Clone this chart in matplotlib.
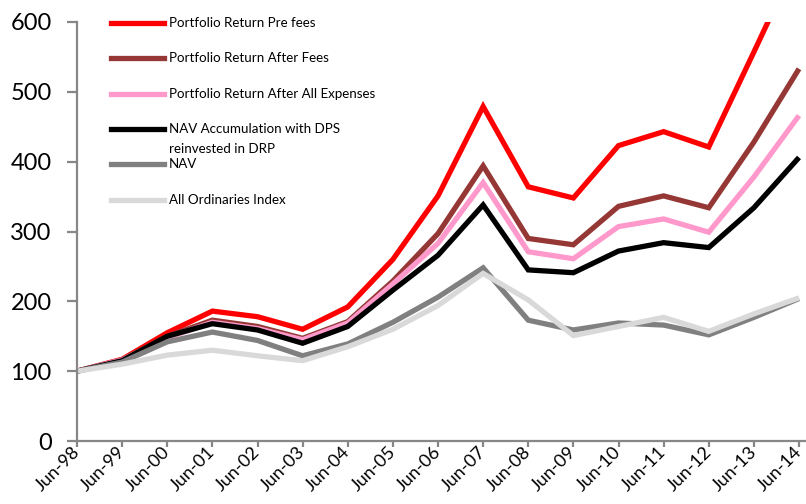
import matplotlib
matplotlib.use("Agg")
import matplotlib.pyplot as plt
from matplotlib.lines import Line2D
import matplotlib.transforms as mtransforms

plt.rcParams['font.family'] = ['Lato', 'DejaVu Sans']

categories = ["Jun-98", "Jun-99", "Jun-00", "Jun-01", "Jun-02", "Jun-03", "Jun-04",
              "Jun-05", "Jun-06", "Jun-07", "Jun-08", "Jun-09", "Jun-10", "Jun-11",
              "Jun-12", "Jun-13", "Jun-14"]

pre_fees = [100, 117, 155, 186, 178, 160, 192, 260, 351, 479, 364, 348, 423, 443, 421, 557, 695]
after_fees = [100, 116, 150, 173, 164, 147, 171, 229, 297, 394, 290, 281, 336, 351, 334, 428, 533]
after_all = [100, 116, 148, 170, 161, 145, 169, 225, 283, 370, 271, 261, 307, 318, 299, 378, 466]
nav_accum = [100, 115, 150, 168, 159, 140, 164, 216, 266, 338, 245, 241, 272, 284, 277, 334, 406]
nav = [100, 113, 142, 156, 144, 122, 139, 170, 206, 248, 173, 159, 169, 166, 152, 177, 204]
all_ords = [100, 110, 123, 130, 122, 115, 135, 160, 194, 240, 202, 151, 164, 177, 157, 182, 205]

labels = ["Portfolio Return Pre fees", "Portfolio Return After Fees",
          "Portfolio Return After All Expenses",
          "NAV Accumulation with DPS\nreinvested in DRP", "NAV", "All Ordinaries Index"]
colors = ["#FF0000", "#953735", "#FF99CC", "#000000", "#808080", "#D9D9D9"]
series = [pre_fees, after_fees, after_all, nav_accum, nav, all_ords]
y_ticks = [0, 100, 200, 300, 400, 500, 600]

fig = plt.figure(figsize=(8.06, 5.04), dpi=100)
ax = fig.add_axes([77 / 806, 1 - 441 / 504, 729 / 806, 419 / 504])

x = list(range(len(categories)))
for vals, c in zip(series, colors):
    ax.plot(x, vals, color=c, lw=3.8, solid_joinstyle='miter', solid_capstyle='butt')

ax.set_xlim(0, 16.155)
ax.set_ylim(0, 600)
ax.set_yticks(y_ticks)
ax.set_yticklabels([str(v) for v in y_ticks], fontsize=17)
ax.set_xticks(x)
ax.set_xticklabels(categories, fontsize=13, rotation=45, ha='right', va='center',
                   rotation_mode='anchor')
offset = mtransforms.ScaledTranslation(9 / 100, -19 / 100, fig.dpi_scale_trans)
for lab in ax.get_xticklabels():
    lab.set_transform(lab.get_transform() + offset)

for s in ['top', 'right']:
    ax.spines[s].set_visible(False)
for s in ['left', 'bottom']:
    ax.spines[s].set_color('#878787')
    ax.spines[s].set_linewidth(1.6)
ax.tick_params(axis='y', length=7.2, width=1.6, color='#878787', pad=11)
ax.tick_params(axis='x', length=4, width=1.6, color='#878787', pad=2)

# legend (manual, Excel-like layout)
ys = [0.9983, 0.9134, 0.8282, 0.7439, 0.6604, 0.5752]
for lab, c, yy in zip(labels, colors, ys):
    ax.add_line(Line2D([0.0466, 0.1193], [yy, yy], color=c, lw=3.8,
                       transform=ax.transAxes, clip_on=False))
    for i, line in enumerate(lab.split("\n")):
        ax.text(0.1262, yy - i * 20 / 419, line, transform=ax.transAxes,
                fontsize=9.6, va='center', ha='left')

fig.savefig("out.png", dpi=100)
